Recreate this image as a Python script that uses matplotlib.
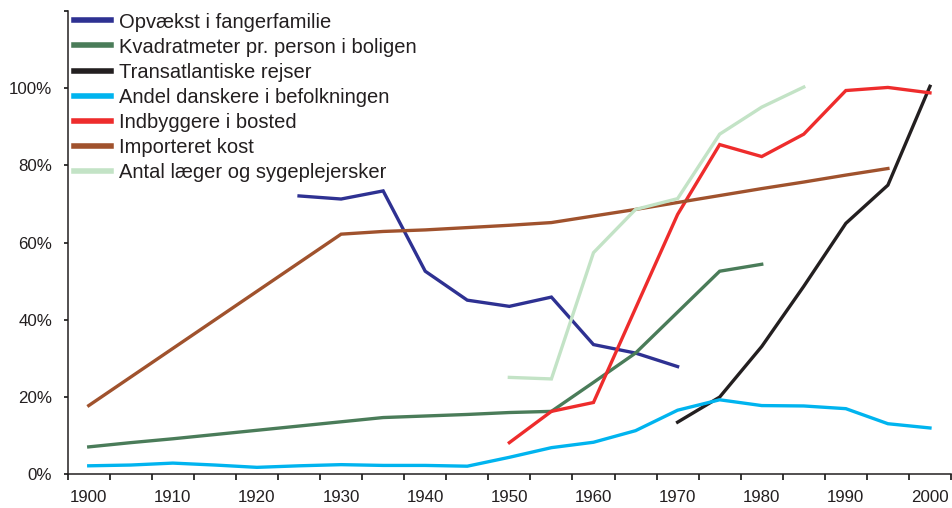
import numpy as np
import matplotlib.pyplot as plt

plt.rcParams['font.family'] = ['Liberation Sans', 'DejaVu Sans']

# data (percent)
years_opvaekst = [1925, 1930, 1935, 1940, 1945, 1950, 1955, 1960, 1965, 1970]
opvaekst = [72.1, 71.3, 73.4, 52.6, 45.1, 43.5, 45.9, 33.6, 31.4, 27.9]

years_kvm = list(range(1900, 1985, 5))
kvm = [7.1, 8.2, 9.2, 10.3, 11.4, 12.5, 13.6, 14.7, 15.1, 15.5, 16.0, 16.3,
       23.8, 31.4, 42.0, 52.6, 54.4]

years_rejser = [1970, 1975, 1980, 1985, 1990, 1995, 2000]
rejser = [13.5, 20.0, 33.1, 48.7, 65.0, 74.9, 100.5]

years_danskere = list(range(1900, 2005, 5))
danskere = [2.2, 2.4, 2.9, 2.4, 1.8, 2.2, 2.5, 2.3, 2.3, 2.1, 4.4, 6.9,
            8.3, 11.3, 16.6, 19.3, 17.8, 17.7, 17.0, 13.1, 12.0]

years_bosted = [1950, 1955, 1960, 1965, 1970, 1975, 1980, 1985, 1990, 1995, 2000]
bosted = [8.2, 16.3, 18.6, 43.0, 67.3, 85.4, 82.3, 88.1, 99.4, 100.2, 98.8]

years_kost = [1900, 1930, 1935, 1940, 1945, 1950, 1955, 1960, 1965, 1970,
              1975, 1980, 1985, 1990, 1995]
kost = [17.8, 62.2, 62.9, 63.3, 63.9, 64.5, 65.2, 66.9, 68.6, 70.4,
        72.2, 74.0, 75.7, 77.5, 79.2]

years_laeger = [1950, 1955, 1960, 1965, 1970, 1975, 1980, 1985]
laeger = [25.1, 24.7, 57.4, 68.6, 71.4, 88.1, 95.1, 100.3]

series = [
    ('Opvækst i fangerfamilie', years_opvaekst, opvaekst, '#2E3192'),
    ('Kvadratmeter pr. person i boligen', years_kvm, kvm, '#4A7C59'),
    ('Transatlantiske rejser', years_rejser, rejser, '#231F20'),
    ('Andel danskere i befolkningen', years_danskere, danskere, '#00B4EF'),
    ('Indbyggere i bosted', years_bosted, bosted, '#EE2C2C'),
    ('Importeret kost', years_kost, kost, '#A0522D'),
    ('Antal læger og sygeplejersker', years_laeger, laeger, '#C3E3C6'),
]

fig = plt.figure(figsize=(9.52, 5.08), dpi=100)
ax = fig.add_axes([67.7 / 952, 33.7 / 508, (951 - 67.7) / 952, (474.3 - 11) / 508])

for name, xs, ys, col in series:
    ax.plot(xs, ys, color=col, lw=2.4, label=name, solid_joinstyle='miter')

ax.set_xlim(1897.5, 2002.5)
ax.set_ylim(0, 120)

# category-style x axis: ticks between categories, labels every 10 years
ax.set_xticks(np.arange(1897.5, 2003, 5))
ax.set_xticklabels([])
ax.set_xticks(range(1900, 2001, 10), minor=True)
ax.set_xticklabels([str(y) for y in range(1900, 2001, 10)], minor=True)
ax.tick_params(axis='x', which='major', length=4, width=1.1, direction='out')
ax.tick_params(axis='x', which='minor', length=0, pad=11.5, labelsize=12.2,
               labelcolor='#231F20')

ax.set_yticks(range(0, 121, 20))
ax.set_yticklabels([f'{v}%' for v in range(0, 101, 20)] + [''])
ax.tick_params(axis='y', length=3.2, width=1.1, pad=8, labelsize=12.2,
               labelcolor='#231F20')

for s in ['top', 'right']:
    ax.spines[s].set_visible(False)
for s in ['left', 'bottom']:
    ax.spines[s].set_linewidth(1.1)
    ax.spines[s].set_color('#231F20')

leg = fig.legend(loc='upper left', bbox_to_anchor=(74 / 952, 1 - 12.5 / 508),
                 frameon=False, fontsize=14.5, handlelength=1.85,
                 handletextpad=0.4, labelspacing=0.3, borderpad=0,
                 borderaxespad=0)
for line in leg.get_lines():
    line.set_linewidth(4)
for t in leg.get_texts():
    t.set_color('#231F20')

fig.savefig('out.png', dpi=100)
